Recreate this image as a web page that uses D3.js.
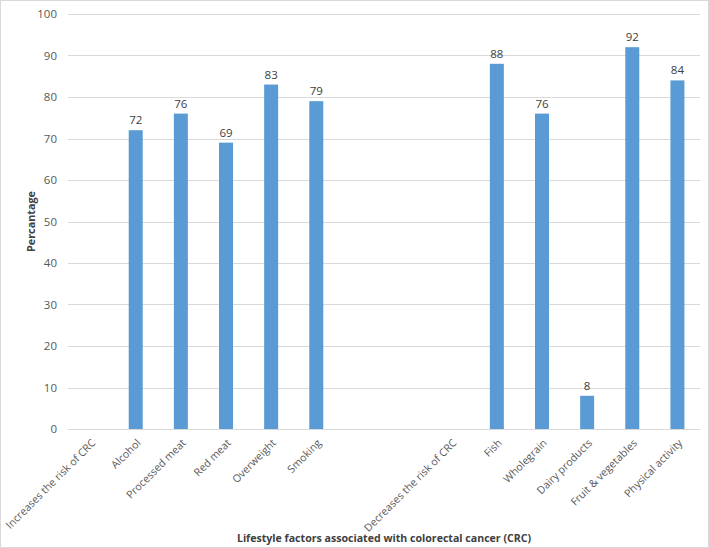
<!DOCTYPE html>
<html><head><meta charset="utf-8">
<script src="https://cdn.jsdelivr.net/npm/d3@7"></script>
<style>body{margin:0;background:#fff;}svg{display:block;font-family:"Open Sans","Liberation Sans",sans-serif;}</style>
</head><body>
<svg id="c" width="709" height="548"></svg>
<script>
const categories = ["Increases the risk of CRC","Alcohol","Processed meat","Red meat","Overweight","Smoking","gap1","gap2","Decreases the risk of CRC","Fish","Wholegrain","Dairy products","Fruit & vegetables","Physical activity"];
const labels = ["Increases the risk of CRC","Alcohol","Processed meat","Red meat","Overweight","Smoking","","","Decreases the risk of CRC","Fish","Wholegrain","Dairy products","Fruit & vegetables","Physical activity"];
const values = [null,72,76,69,83,79,null,null,null,88,76,8,92,84];
const yTicks = [0,10,20,30,40,50,60,70,80,90,100];

const svg = d3.select("#c");
const W = 709, H = 548;
const m = {l:68, r:9, t:14, b:119};
svg.append("rect").attr("x",0.5).attr("y",0.5).attr("width",W-1).attr("height",H-1).attr("fill","#fff").attr("stroke","#d9d9d9");

const x = d3.scaleBand().domain(categories).range([m.l, W-m.r]).paddingInner(0.69).paddingOuter(0.345);
const y = d3.scaleLinear().domain([0,100]).range([H-m.b, m.t]);

svg.append("g").selectAll("line").data(yTicks).join("line")
  .attr("x1",m.l).attr("x2",W-m.r).attr("y1",d=>Math.round(y(d))+0.5).attr("y2",d=>Math.round(y(d))+0.5)
  .attr("stroke","#d9d9d9").attr("stroke-width",1);

const yAxis = d3.axisLeft(y).tickValues(yTicks).tickSize(0).tickPadding(11);
const ya = svg.append("g").attr("transform",`translate(${m.l},0)`).call(yAxis);
ya.select(".domain").remove();
ya.selectAll("text").attr("fill","#595959").style("font-size","11.5px").style("font-family","'Open Sans'");

const xAxis = d3.axisBottom(x).tickSize(0).tickFormat((d,i)=>labels[i]);
const xa = svg.append("g").attr("transform",`translate(0,${H-m.b})`).call(xAxis);
xa.select(".domain").remove();
xa.selectAll("text").attr("fill","#595959").style("font-size","10.6px").style("font-family","'Open Sans'")
  .attr("text-anchor","end").attr("dy","0.35em").attr("y",0)
  .attr("transform","translate(3,12) rotate(-45)");

const data = categories.map((c,i)=>({c, v:values[i]})).filter(d=>d.v!==null);
svg.selectAll("rect.bar").data(data).join("rect").attr("class","bar")
  .attr("x",d=>x(d.c)).attr("width",x.bandwidth())
  .attr("y",d=>y(d.v)).attr("height",d=>y(0)-y(d.v)).attr("fill","#5b9bd5");
svg.selectAll("text.lbl").data(data).join("text")
  .attr("x",d=>x(d.c)+x.bandwidth()/2).attr("y",d=>y(d.v)-6)
  .attr("text-anchor","middle").attr("fill","#404040").style("font-size","11.5px").text(d=>d.v);

svg.append("text").attr("transform",`translate(35,${(m.t+H-m.b)/2}) rotate(-90)`)
  .attr("text-anchor","middle").attr("fill","#404040").style("font-size","10.8px").style("font-weight","bold").text("Percantage");
svg.append("text").attr("x",384).attr("y",542)
  .attr("text-anchor","middle").attr("fill","#404040").style("font-size","10.6px").style("font-weight","bold").text("Lifestyle factors associated with colorectal cancer (CRC)");
</script>
</body></html>
